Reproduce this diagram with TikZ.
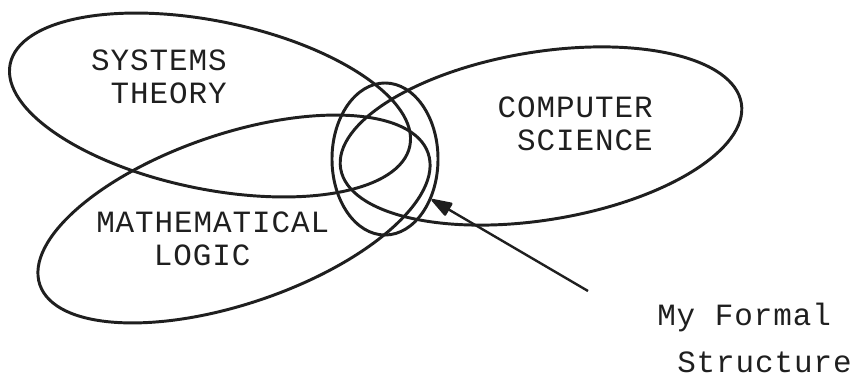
\documentclass[tikz,border=0pt]{standalone}
\usepackage{fontspec}
\newfontfamily\typewr[LetterSpace=3]{Liberation Mono}
\usetikzlibrary{positioning, arrows.meta, shapes.geometric}

\begin{document}
\begin{tikzpicture}[
  x=0.025cm, y=0.025cm,
  font=\typewr\fontsize{22}{23.5}\selectfont,
  >={Triangle[length=5.8mm, width=3.8mm, round]},
  field/.style={line width=2.1pt, draw=black!88},
  lbl/.style={inner sep=0pt, align=center, text=black!88},
  arr/.style={->, line width=1.7pt, draw=black!88},
]
\useasboundingbox (0,0) rectangle (851,377);
% ---- the three fields ----
\draw[field, rotate around={-11.6:(210,272)}] (210,272) ellipse [x radius=204, y radius=84];
\draw[field, rotate around={18.7:(234,158)}] (234,158) ellipse [x radius=205, y radius=85];
\draw[field, rotate around={9.25:(541,241)}] (541,241) ellipse [x radius=203, y radius=84];
% ---- the overlap ----
\node[field, ellipse, inner sep=0pt, minimum width=2.65cm, minimum height=3.8cm] (mfs) at (385,218) {};
% ---- labels ----
\node[lbl, align=right, anchor=east] (sys) at (227,300) {SYSTEMS\\THEORY};
\node[lbl, align=right, anchor=east] (cs) at (653,253) {COMPUTER\\SCIENCE};
\node[lbl, align=left, anchor=west] (ml) at (96,138) {MATHEMATICAL\\\phantom{MAT}LOGIC};
\node[lbl, anchor=base west] (my) at (657,52) {My Formal};
\node[lbl, anchor=base west] (st) at (677,5) {Structure};
% ---- arrow ----
\coordinate (tail) at (588,86);
\draw[arr] (tail) -- (mfs.-41);
\end{tikzpicture}
\end{document}
